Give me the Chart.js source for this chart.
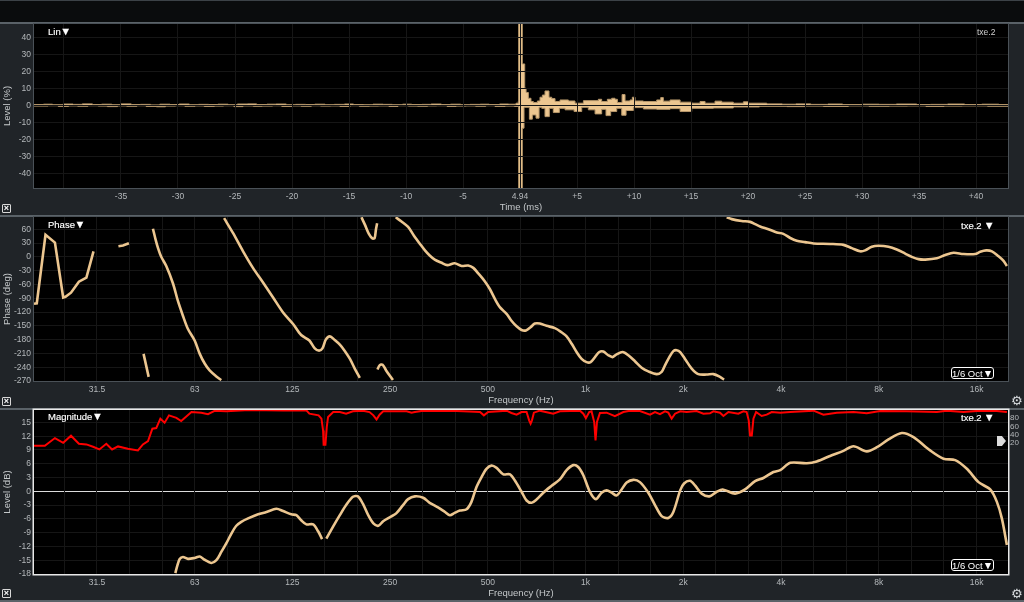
<!DOCTYPE html>
<html><head><meta charset="utf-8">
<script src="https://cdn.jsdelivr.net/npm/chart.js@4/dist/chart.umd.js"></script>
<style>
html,body{margin:0;padding:0;background:#202428;width:1024px;height:602px;overflow:hidden;font-family:"Liberation Sans",sans-serif}
canvas{position:absolute;left:0}
.bar{position:absolute;left:0;width:1024px}
.t{position:absolute;color:#fff;white-space:nowrap;line-height:12px;font-size:9.5px;-webkit-text-stroke:.15px #fff}
.t b{font-size:11px;font-weight:normal;line-height:12px;margin-left:-.5px}
.oct{position:absolute;left:951px;width:41px;height:10px;border:1px solid #fff;border-radius:3px;background:#000;color:#fff;font-size:9.5px;line-height:10px;text-align:center;white-space:nowrap}
.oct b{font-size:10.5px;font-weight:normal}
.x{position:absolute;left:2px;width:7px;height:7px;border:1px solid #d8d8d8;border-radius:1px;color:#fff;font-size:9px;line-height:7px;text-align:center;font-weight:bold}
.g{position:absolute;left:1011px;color:#d8dcdf;font-size:13px;line-height:13px;font-family:"DejaVu Sans"}
</style></head><body>
<div class="bar" style="top:0;height:1px;background:#3c4247"></div>
<div class="bar" style="top:1px;height:21px;background:#0a0c0d"></div>
<div class="bar" style="top:22px;height:2px;background:#5a6268"></div>
<div class="bar" style="top:215px;height:2px;background:#5a6268"></div>
<div class="bar" style="top:408px;height:2px;background:#5a6268"></div>
<div class="bar" style="top:600px;height:2px;background:#5a6268"></div>
<canvas id="ir" width="1024" height="193" style="top:22px"></canvas>
<canvas id="ph" width="1024" height="193" style="top:215px"></canvas>
<canvas id="mg" width="1024" height="193" style="top:408px"></canvas>

<div class="t" style="left:48px;top:25px">Lin<b>▼</b></div>
<div class="t" style="left:977px;top:26px;font-size:8.5px;color:#cfcfcf;-webkit-text-stroke:0">txe.2</div>
<div class="t" style="left:48px;top:218px">Phase<b>▼</b></div>
<div class="t" style="left:961px;top:219px">txe.2 <b>▼</b></div>
<div class="t" style="left:48px;top:410px">Magnitude<b>▼</b></div>
<div class="t" style="left:961px;top:411px">txe.2 <b>▼</b></div>
<div class="oct" style="top:367px">1/6 Oct<b>▼</b></div>
<div class="oct" style="top:559px">1/6 Oct<b>▼</b></div>
<div class="x" style="top:204px">×</div>
<div class="x" style="top:397px">×</div>
<div class="x" style="top:589px">×</div>
<div class="g" style="top:394px">⚙</div>
<div class="g" style="top:587px">⚙</div>
<div style="position:absolute;left:997px;top:436px;width:9px;height:10px;background:#dcdcdc;clip-path:polygon(0 0,55% 0,100% 50%,55% 100%,0 100%)"></div>

<script>
// ---------- Impulse response (percent) ----------
const timeTickValues=[-40,-35,-30,-25,-20,-15,-10,-5,0,5,10,15,20,25,30,35,40];
const timeTickLabels=['','-35','-30','-25','-20','-15','-10','-5','4.94','+5','+10','+15','+20','+25','+30','+35','+40'];
const levelTickValues=[40,30,20,10,0,-10,-20,-30,-40];
const irUpperTime=[-42.63,-41.8,-41,-40.1,-39.2,-38.4,-37.5,-36.7,-35.8,-35,-34.1,-33.3,-32.4,-31.6,-30.7,-29.9,-29,-28.2,-27.3,-26.5,-25.6,-24.8,-23.9,-23.1,-22.2,-21.4,-20.5,-19.7,-18.8,-18,-17.1,-16.3,-15.4,-14.6,-13.7,-12.9,-12,-11.2,-10.3,-9.5,-8.6,-7.8,-6.9,-6.1,-5.2,-4.4,-3.5,-2.7,-1.8,-1,-0.35,-0.15,-0.12,0.2,0.41,0.53,0.73,0.96,1.17,1.52,1.75,1.96,2.19,2.54,2.78,3.07,3.51,4.24,4.82,5.56,6.87,7.16,7.66,8.04,8.33,8.54,8.95,9.21,9.65,9.85,10.09,10.82,11.99,12.34,12.57,13.16,14.04,15.06,15.79,16.23,17.1,17.69,18.71,19.59,20.03,21.64,23,24.2,25.5,27,28.3,30,31.5,33,34.8,36,37.5,39,40.5,42,42.8];
const irUpperLevel=[0.4,0.6,0.3,0.7,0.5,0.8,0.4,0.6,0.3,0.8,0.4,0.5,0.2,0.6,0.4,0.7,0.3,0.5,0.4,0.6,0.3,0.7,0.8,0.4,0.6,0.7,0.3,0.5,0.4,0.6,0.3,0.5,0.7,0.4,0.3,0.6,0.5,0.3,0.6,0.4,0.5,0.7,0.4,0.6,0.3,0.5,0.6,0.4,0.7,0.6,1.2,2.4,60,24.3,10,7.5,4.1,2.2,1.6,2.5,4.7,6,8.4,4.7,3.9,2.2,3.1,2.5,1.2,2.7,3.5,2.2,3.5,4.1,3.5,1.6,6.3,2.5,3.1,4.7,2.5,2.2,3.1,4.5,2.4,3.1,1.8,1.2,2.2,1.2,2.4,1.8,1.2,2,1.2,0.8,0.6,0.8,0.5,0.7,0.4,0.6,0.5,0.7,0.4,0.5,0.7,0.4,0.6,0.4,0.4];
const irLowerTime=[-42.63,-41.4,-40.5,-39.6,-38.8,-37.9,-37,-36.2,-35.3,-34.5,-33.6,-32.8,-31.9,-31.1,-30.2,-29.4,-28.5,-27.7,-26.8,-26,-25.1,-24.3,-23.4,-22.6,-21.7,-20.9,-20,-19.2,-18.3,-17.5,-16.6,-15.8,-14.9,-14.1,-13.2,-12.4,-11.5,-10.7,-9.8,-9,-8.1,-7.3,-6.4,-5.6,-4.7,-3.9,-3,-2.2,-1.3,-0.5,-0.12,0.2,0.35,0.82,1.08,1.4,1.67,1.9,2.19,2.57,2.92,3.45,3.95,4.74,5.41,5.99,6.58,7.16,7.54,7.95,8.48,8.92,9.3,9.94,10.82,11.99,13.16,14.04,15.06,16.96,18.71,21,23.4,25,26.6,28.8,30.6,32.4,34,35.6,37.2,38.8,41,42.8];
const irLowerLevel=[-0.5,-0.3,-0.7,-0.4,-0.6,-0.3,-0.5,-0.8,-0.4,-0.6,-0.3,-0.7,-0.9,-0.5,-0.3,-0.6,-0.4,-0.7,-0.5,-0.3,-0.8,-0.4,-0.6,-0.5,-0.3,-0.7,-0.4,-0.6,-0.3,-0.5,-0.4,-0.7,-0.3,-0.6,-0.5,-0.4,-0.7,-0.3,-0.5,-0.6,-0.4,-0.3,-0.7,-0.5,-0.4,-0.6,-0.3,-0.7,-0.5,-0.7,-60,-13.5,-1.2,-8.2,-5.7,-7.6,-1.2,-1.8,-6.7,-1.8,-4.3,-1.8,-2.7,-3.7,-1.2,-2.7,-5.1,-2.4,-6.1,-3.7,-1.8,-5.9,-3.1,-1.4,-2.2,-2.4,-2,-3.7,-1.8,-1.6,-1,-0.6,-0.8,-0.5,-0.7,-0.4,-0.6,-0.5,-0.4,-0.7,-0.5,-0.4,-0.6,-0.4];

// ---------- Frequency axis ----------
const freqTickValues=[31.25,62.5,125,250,500,1000,2000,4000,8000,16000];
const freqTickLabels=['31.5','63','125','250','500','1k','2k','4k','8k','16k'];
const freqGridValues=[24.8,31.25,39.4,49.6,62.5,78.7,99.2,125,157.5,198.4,250,315,396.9,500,630,793.7,1000,1260,1587,2000,2520,3175,4000,5040,6350,8000,10079,12699,16000];
const phaseTickValues=[60,30,0,-30,-60,-90,-120,-150,-180,-210,-240,-270];
const dbTickValues=[15,12,9,6,3,0,-3,-6,-9,-12,-15,-18];
const coherenceTickValues=[80,60,40,20];

// ---------- Phase (deg) ----------
const phaseLowFreq=[20,20.4,21.7,23.2,24.6,25,26,27.5,29,30.5,33,36.4,37.6,39.2,41,43.5,45.1];
const phaseLowDeg=[-102,-101,48,31,-88.5,-87,-78,-54,-45,12,null,23,24.5,29.5,null,-211,-261];
const phaseFreq=[46.5,47.4,48.2,49.3,51.1,53.6,55.5,57.5,59.6,62.5,64.8,67.1,69.5,72.9,75.5,76,77,82,88.1,94.5,101.5,109,117,125.6,133,141,146.5,151,154.7,158.4,163,168.8,175,181,188,194.5,201.6,203,204,209,215,220.5,224,226,228,228.2,228.5,232,237,243,255,257,260,271,284,296,309,320,331,343,360,375,395,415,435,451,467,489,507,526,545,571,591,613,635,655,677,698,723,758,804,843,874,906,938,972,1007,1036,1069,1102,1134,1174,1211,1246,1300,1354,1419,1488,1560,1655,1715,1756,1811,1863,1908,1956,2024,2122,2223,2360,2475,2594,2670,2700,2720,2819,3026,3211,3327,3446,3656,3882,4066,4269,4470,4744,5032,5664,6226,6606,7008,7260,7612,7984,8568,9088,9646,10110,10600,11116,12074,12810,13594,14590,15850,16426,17136,17840,18704,19378,19844];
const phaseDeg=[61,37,19,0,-20,-58,-96,-128,-157,-182,-211,-232,-247,-260,-268,null,84,52,12,-24,-56,-88.5,-121,-146,-170,-182,-199,-204,-199,-180,-173,-181,-191,-204,-222,-243,-263,null,86,70,50,40,41,59,73,null,-245,-236,-234.5,-247,-268,null,86,77,65,46,28,14,3,-6,-13,-18,-14,-20,-19,-24,-36,-53,-70,-92,-110,-124,-139,-151,-159,-160,-153,-145,-145,-150,-155,-164,-173,-189,-207,-222,-229,-229,-218,-207,-206,-214,-218,-212,-207,-214,-227,-241,-249,-255,-250,-236,-218,-205,-203,-207,-222,-243,-255,-256,-255,-261,-267,null,86,82,78,76,71,66,60,53,50,41,35,32,29,28,26,19,12,14,22,24,22,16,7,0,-5,-6,-3,4,9,6,6,11,14,12,1,-9,-20];

// ---------- Magnitude (dB) ----------
const magFreq=[54.5,55.3,56.2,57.5,59.6,62.5,64.8,67.1,70.3,72.9,75.5,78.2,81.1,84,87,91.3,98,104,111.6,117,124,128.6,133,138,144.8,150,154.3,156.5,159,166.8,175,183,192,199,206,214,222,230,238,250,261,274,284,298,316,331,351,369,382,395,410,430,445,461,478,495,513,532,558,585,605,635,658,682,706,741,786,833,874,916,949,984,1031,1076,1120,1161,1203,1246,1291,1338,1403,1470,1560,1636,1715,1798,1863,1956,2010,2096,2172,2278,2406,2534,2644,2886,3098,3327,3528,3788,3978,4269,4800,5152,5664,6226,6684,7346,7896,8568,9418,10232,11516,12658,13754,14940,16226,17630,18484,19146,19844];
const magDb=[-17.8,-16.1,-14.75,-14.3,-14.7,-14.5,-14.2,-14.9,-15.6,-15,-13.2,-11.35,-9.2,-7.5,-6.65,-5.9,-5,-4.5,-3.8,-4.3,-5,-5.2,-6.3,-7.2,-7.2,-8.7,-10.4,null,-10.3,-7.7,-5.2,-3,-1.2,-1.1,-2.7,-5.2,-7,-7.5,-6.5,-5.6,-4.8,-3,-1.7,-1.1,-1.4,-2.5,-3.5,-4.5,-5.2,-4.7,-4.2,-3.9,-2.3,0.9,3.1,4.9,5.6,5.1,3.7,3.7,2.4,-0.1,-2,-2.5,-1.8,-0.3,1.2,2.6,4.6,5.7,5.3,3.5,-0.1,-1.7,-0.3,0.2,-0.3,-0.9,0.4,1.9,2.5,2,-0.3,-3,-5.4,-5.8,-4.5,0.2,1.7,2.3,1.3,-0.5,-1.1,-0.1,0.4,-0.5,0.4,2.2,2.9,4.2,4.6,6.2,6.1,6.5,7.7,8.8,9.8,8.7,9.6,11.3,12.7,11.8,8.9,7.1,6.8,4.9,2,0.4,-2.3,-5.9,-11.7];

// ---------- Coherence (percent) ----------
const cohFreq=[20,21.6,23.2,24.6,26,27.5,29,30.4,31.8,33.4,34.8,36.3,38.9,41.8,43.3,44.9,46.3,47.6,49,50.5,52.1,54.9,56.8,61.1,65.5,68.7,72,78.2,92.3,117,138,141,150.5,153.6,155.4,156,158,159.5,161,167,175,183,192,206,216,222,227,232,238,281,291,298,316,400,420,473,486,501,571,591,613,635,658,670,677,683.5,693,723,795,833,961,984,1002,1026,1043,1063,1073,1084,1107,1161,1231,1307,1370,1470,1579,1636,1695,1756,1798,1841,1886,1956,2048,2198,2306,2416,2475,2594,2658,2753,2954,3061,3134,3180,3211,3250,3288,3350,3486,3612,3744,3978,4269,5032,5402,5938,6684,7346,8078,9760,12074,12962,14590,16426,18484,19844];
const cohPct=[13,13,31.7,20.3,37.4,17.9,16.3,10.6,4.1,17.9,4.1,11.4,5.7,1.6,16.3,24.4,54.5,56,78.9,69,87,81,73,95,93.5,90,98,97,100,98.5,99,91,87,79,50,15.4,15.4,58.5,83,95,95,91,96.7,98.4,95,87,77,88.6,96.7,96.7,93.5,95,98.4,97.5,96.7,95,87,95,98.4,92.7,88.6,95,95,74.8,66.7,74.8,93.5,98.4,91,96.7,98.4,91,80,95,96.7,70.7,26,70.7,92.7,93.5,85,95,98.4,97.5,88.6,95,90,96.7,93.5,78.9,91,96.7,95,97.5,91,91.9,96.7,93.5,85.4,95,91,96.7,95,74.8,38.2,38.2,78.9,95,85.4,88.6,95,93.5,95,98.4,88.6,93.5,95,91.9,97.5,96.7,95,98.4,95,98.4,97.5,95];

// ---------- Styling ----------
const TAN='#ecc690', GRID='#161616', TICK='#b4b8bb', TITLE='#c4c8ca', FONT='"Liberation Sans"';
const pairs=(xs,ys)=>xs.map((x,i)=>({x,y:ys[i]}));
const fixTicks=vals=>s=>{s.ticks=vals.map(value=>({value}));};
const noPad=s=>{s.paddingTop=s.paddingBottom=s.paddingLeft=s.paddingRight=0;};
const frame={id:'frame',
  beforeDraw(c,a,o){const r=c.chartArea;c.ctx.fillStyle='#000';c.ctx.fillRect(r.left,r.top,r.right-r.left,r.bottom-r.top);},
  afterDraw(c,a,o){const r=c.chartArea,g=c.ctx;g.save();g.strokeStyle=o.color;g.lineWidth=o.width;g.strokeRect(r.left-o.width/2,r.top-o.width/2,r.right-r.left+o.width,r.bottom-r.top+o.width);g.restore();}};

const gridOf=(color,z)=>({color,lineWidth:1,drawTicks:false,z:z||0});
function yAxis(min,max,ticks,title,grid){return {
  type:'linear',min,max,afterBuildTicks:fixTicks(ticks),afterFit:s=>{s.width=34;noPad(s);},
  grid:grid||gridOf(GRID),border:{display:false},
  ticks:{color:TICK,font:{family:FONT,size:8.5},padding:3,autoSkip:false,maxRotation:0},
  title:{display:true,text:title,color:TITLE,font:{family:FONT,size:9.5},padding:{top:2,bottom:0}}
};}
function xAxis(type,min,max,vals,labels,title,grid){const look=new Map(labels);return {
  type,min,max,afterBuildTicks:fixTicks(vals),afterFit:s=>{s.height=27;noPad(s);},
  grid:grid||gridOf(GRID),border:{display:false},
  ticks:{color:TICK,font:{family:FONT,size:8.5},padding:4,autoSkip:false,maxRotation:0,minRotation:0,callback:v=>look.has(v)?look.get(v):''},
  title:{display:true,text:title,color:TITLE,font:{family:FONT,size:9.5},padding:{top:0,bottom:2}}
};}
const lineDs=(data,color,w,tension)=>({data,borderColor:color,borderWidth:w,pointRadius:0,tension,spanGaps:false,fill:false,borderCapStyle:'butt'});
const base={responsive:false,animation:false,events:[],plugins:{legend:{display:false},tooltip:{enabled:false},frame:{color:'#4a5157',width:1}}};
const zip=(a,b)=>a.map((v,i)=>[v,b[i]]);
const freqLabels=zip(freqTickValues,freqTickLabels);

// Impulse response
new Chart(document.getElementById('ir'),{type:'line',plugins:[frame],
 data:{datasets:[
  Object.assign(lineDs(pairs(irUpperTime,irUpperLevel),'#b5966a',1,0),{stepped:true,fill:{value:0},backgroundColor:TAN}),
  Object.assign(lineDs(pairs(irLowerTime,irLowerLevel),'#b5966a',1,0),{stepped:true,fill:{value:0},backgroundColor:TAN})
 ]},
 options:Object.assign({},base,{layout:{padding:{top:2,right:16,left:0,bottom:0}},scales:{
  x:xAxis('linear',-42.63,42.8,timeTickValues,zip(timeTickValues,timeTickLabels),'Time (ms)',gridOf(GRID,1)),
  y:yAxis(-48.7,47.8,levelTickValues,'Level (%)',gridOf(GRID,1))
 }})});

// Phase
new Chart(document.getElementById('ph'),{type:'line',plugins:[frame],
 data:{datasets:[
  lineDs(pairs(phaseLowFreq,phaseLowDeg),TAN,2.6,0),
  lineDs(pairs(phaseFreq,phaseDeg),TAN,2.6,0.3)
 ]},
 options:Object.assign({},base,{layout:{padding:{top:2,right:16,left:0,bottom:0}},scales:{
  x:xAxis('logarithmic',20,20000,freqGridValues,freqLabels,'Frequency (Hz)'),
  y:yAxis(-270,86.6,phaseTickValues,'Phase (deg)')
 }})});

// Magnitude and coherence
new Chart(document.getElementById('mg'),{type:'line',plugins:[frame],
 data:{datasets:[
  Object.assign(lineDs(pairs(cohFreq,cohPct),'#ff0000',2,0),{yAxisID:'y1'}),
  lineDs(pairs(magFreq,magDb),TAN,2.6,0.3)
 ]},
 options:Object.assign({},base,{layout:{padding:{top:2,right:0,left:0,bottom:0}},
  plugins:Object.assign({},base.plugins,{frame:{color:'#e8e8e8',width:1.5}}),scales:{
  x:xAxis('logarithmic',20,20000,freqGridValues,freqLabels,'Frequency (Hz)'),
  y:yAxis(-18,17.7,dbTickValues,'Level (dB)',{color:c=>c.tick.value===0?'#dcdcdc':GRID,lineWidth:1,drawTicks:false}),
  y1:{type:'linear',position:'right',min:-299,max:100,afterBuildTicks:fixTicks(coherenceTickValues),afterFit:s=>{s.width=16;noPad(s);},
      grid:{display:false,drawTicks:false},border:{display:false},
      ticks:{color:TICK,font:{family:FONT,size:8},padding:2,autoSkip:false,maxRotation:0}}
 }})});
</script>
</body></html>
